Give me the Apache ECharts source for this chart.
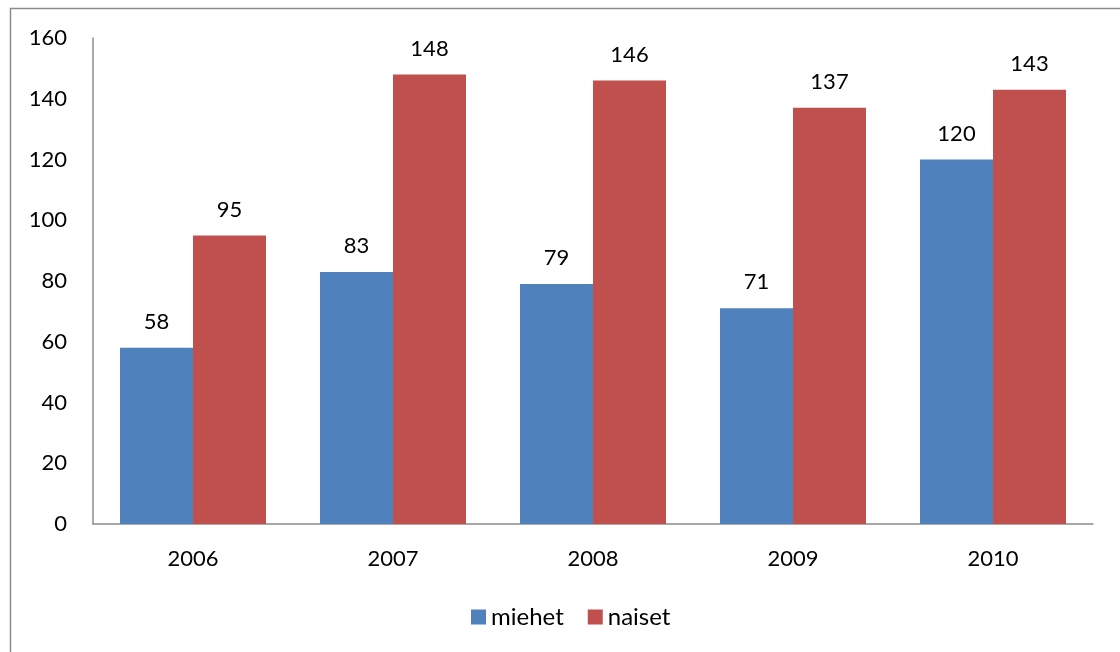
<!DOCTYPE html>
<html>
<head>
<meta charset="utf-8">
<script src="https://cdn.jsdelivr.net/npm/echarts@6/dist/echarts.min.js"></script>
<style>
  html, body { margin: 0; padding: 0; background: #fff; }
  #chart { width: 1120px; height: 652px; }
</style>
</head>
<body>
<div id="chart"></div>
<script>
// Yearly counts by gender
const years = ['2006', '2007', '2008', '2009', '2010'];
const miehet = [58, 83, 79, 71, 120];
const naiset = [95, 148, 146, 137, 143];
const seriesNames = ['miehet', 'naiset'];
const yTicks = { min: 0, max: 160, interval: 20 };

const FONT = 'Lato, "Open Sans", sans-serif';
const chart = echarts.init(document.getElementById('chart'), null, { renderer: 'canvas' });

const labelStyle = {
  show: true,
  position: 'top',
  distance: 15,
  color: '#000',
  fontFamily: FONT,
  fontSize: 22
};

chart.setOption({
  animation: false,
  backgroundColor: '#fff',
  textStyle: { fontFamily: FONT },
  graphic: [{
    type: 'rect',
    shape: { x: 10.5, y: 8.5, width: 1200, height: 800 },
    style: { fill: 'none', stroke: '#8c8c8c', lineWidth: 1.5 },
    silent: true
  }],
  grid: { left: 93, right: 27, top: 38, bottom: 128, containLabel: false },
  legend: {
    data: seriesNames,
    top: 600,
    left: 466,
    itemWidth: 15,
    itemHeight: 15,
    itemGap: 24,
    icon: 'rect',
    textStyle: { fontFamily: FONT, fontSize: 24, color: '#000' }
  },
  xAxis: {
    type: 'category',
    data: years,
    axisLine: { show: true, lineStyle: { color: '#8c8c8c', width: 1.5 } },
    axisTick: { show: false },
    axisLabel: { color: '#000', fontFamily: FONT, fontSize: 22, margin: 24 },
    splitLine: { show: false }
  },
  yAxis: {
    type: 'value',
    min: yTicks.min,
    max: yTicks.max,
    interval: yTicks.interval,
    axisLine: { show: true, lineStyle: { color: '#8c8c8c', width: 1.5 } },
    axisTick: { show: false },
    axisLabel: { color: '#000', fontFamily: FONT, fontSize: 22, margin: 26 },
    splitLine: { show: false }
  },
  series: [
    {
      name: seriesNames[0],
      type: 'bar',
      data: miehet,
      barGap: '0%',
      barCategoryGap: '27%',
      itemStyle: { color: '#4F81BD' },
      label: labelStyle
    },
    {
      name: seriesNames[1],
      type: 'bar',
      data: naiset,
      barGap: '0%',
      barCategoryGap: '27%',
      itemStyle: { color: '#C0504D' },
      label: labelStyle
    }
  ]
});
</script>
</body>
</html>
